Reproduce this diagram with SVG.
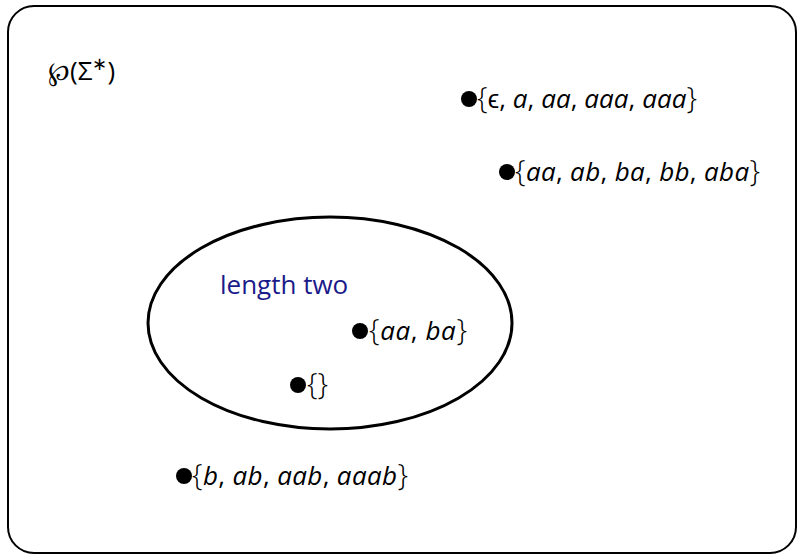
<svg xmlns="http://www.w3.org/2000/svg" width="798" height="555" viewBox="0 0 798 555">
<style>
text{font-family:"Open Sans","Liberation Sans",sans-serif;font-size:26px;fill:#000}
.i{font-style:italic}
.b{font-size:30px;font-weight:300}
.blue{fill:#1a1a8a}
.dot{fill:#000}
</style>
<rect x="0" y="0" width="798" height="555" fill="#fff"/>
<g id="universe">
<rect x="8" y="6" width="788" height="547" rx="26" ry="26" fill="none" stroke="#000" stroke-width="2"/>
<text x="48" y="80" font-size="28">℘(Σ<tspan dy="-10" font-size="18">∗</tspan><tspan dy="10">)</tspan></text>
</g>
<g id="lengthTwo">
<ellipse cx="330" cy="323" rx="182" ry="106" fill="none" stroke="#000" stroke-width="3"/>
<text x="220" y="294" class="blue">length two</text>
</g>
<g id="set1">
<circle class="dot" cx="469" cy="99" r="8"/>
<text x="477" y="108" textLength="220"><tspan class="b">{</tspan>ϵ, <tspan class="i">a</tspan>, <tspan class="i">aa</tspan>, <tspan class="i">aaa</tspan>, <tspan class="i">aaa</tspan><tspan class="b">}</tspan></text>
</g>
<g id="set2">
<circle class="dot" cx="507" cy="172" r="8"/>
<text x="515" y="181" textLength="245"><tspan class="b">{</tspan><tspan class="i">aa</tspan>, <tspan class="i">ab</tspan>, <tspan class="i">ba</tspan>, <tspan class="i">bb</tspan>, <tspan class="i">aba</tspan><tspan class="b">}</tspan></text>
</g>
<g id="set3">
<circle class="dot" cx="360" cy="331" r="8"/>
<text x="369" y="340" textLength="98"><tspan class="b">{</tspan><tspan class="i">aa</tspan>, <tspan class="i">ba</tspan><tspan class="b">}</tspan></text>
</g>
<g id="set4">
<circle class="dot" cx="298" cy="385" r="8"/>
<text x="307" y="394"><tspan class="b">{}</tspan></text>
</g>
<g id="set5">
<circle class="dot" cx="184" cy="476" r="8"/>
<text x="192" y="485" textLength="216"><tspan class="b">{</tspan><tspan class="i">b</tspan>, <tspan class="i">ab</tspan>, <tspan class="i">aab</tspan>, <tspan class="i">aaab</tspan><tspan class="b">}</tspan></text>
</g>
<g id="connectors"></g>
</svg>
